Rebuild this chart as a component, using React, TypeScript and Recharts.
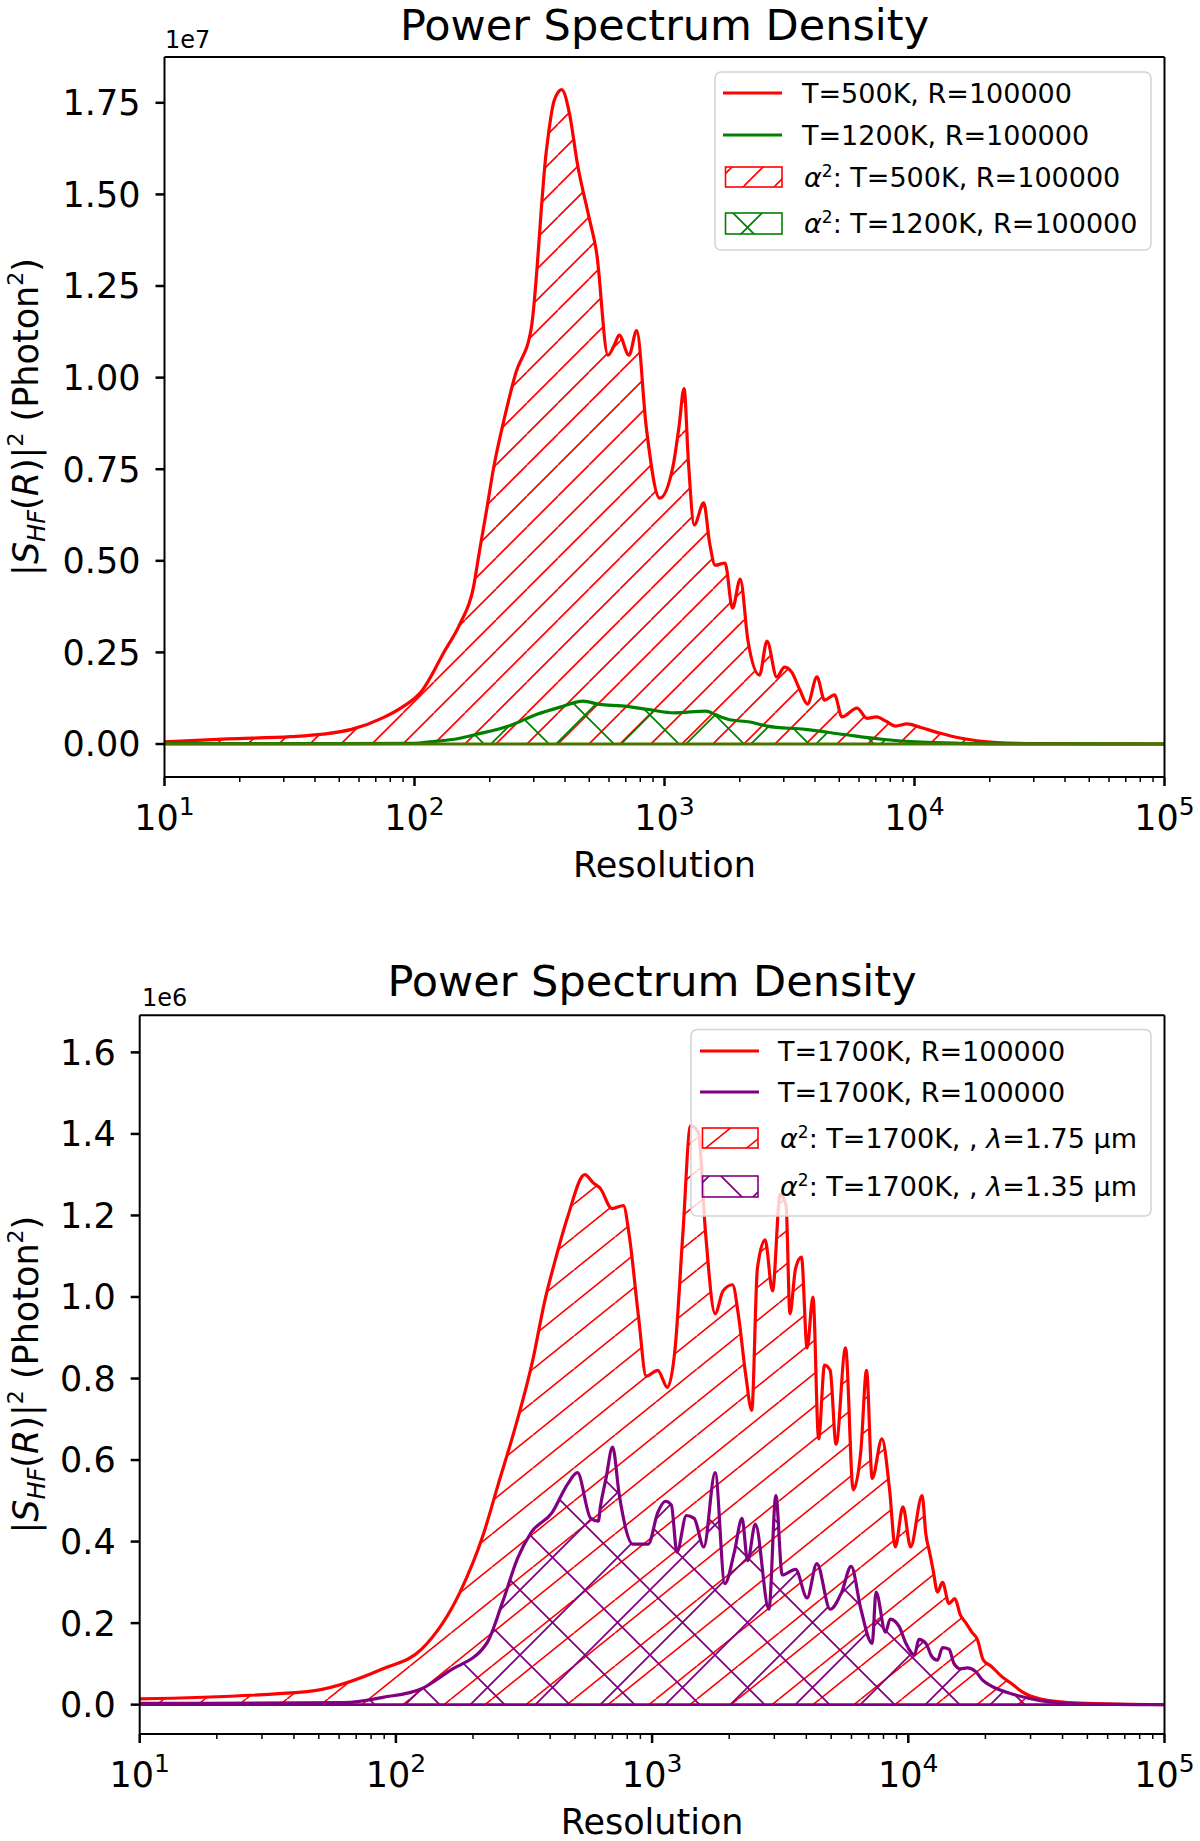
import React from 'react';
import { ComposedChart, Area, XAxis, YAxis, ReferenceLine } from 'recharts';

const FONT = '"DejaVu Sans", sans-serif';
const RED = '#ff0000';
const GREEN = '#008000';
const PURPLE = '#800080';

// ---- top panel: T=500K vs T=1200K (units of 1e7 photon^2)
const topRes500 = [
  10, 18, 32, 43, 56, 75, 89, 107, 132, 152, 172, 182, 195, 206, 229, 254, 293, 337, 362, 388,
  417, 448, 498, 535, 594, 631, 659, 721, 774, 845, 957, 1081, 1143, 1197, 1247, 1315, 1435, 1514,
  1596, 1746, 1871, 2009, 2158, 2399, 2570, 2812, 3020, 3236, 3467, 3733, 4074, 4365, 4786, 5129,
  5888, 6457, 7047, 7700, 8395, 9333, 10593, 12589, 15031, 17783, 21380, 31623, 100000,
];
const topPsd500 = [
  0.006, 0.014, 0.02, 0.027, 0.04, 0.072, 0.1, 0.145, 0.254, 0.328, 0.427, 0.527, 0.645, 0.744, 0.89, 1.012, 1.134, 1.62, 1.756, 1.786,
  1.72, 1.585, 1.44, 1.341, 1.061, 1.09, 1.116, 1.061, 1.128, 0.866, 0.671, 0.757, 0.866, 0.97, 0.768, 0.598, 0.658, 0.55,
  0.488, 0.494, 0.371, 0.45, 0.281, 0.188, 0.281, 0.183, 0.21, 0.195, 0.15, 0.109, 0.183, 0.12, 0.134, 0.074,
  0.098, 0.07, 0.074, 0.062, 0.049, 0.055, 0.045, 0.03, 0.017, 0.009, 0.004, 0.001, 0,
];
const topRes1200 = [
  10, 50, 100, 115, 150, 176, 240, 309, 380, 473, 550, 673, 850, 1096, 1466, 1600, 1807, 2200,
  2570, 3656, 5224, 7413, 10593, 15000, 25000, 100000,
];
const topPsd1200 = [
  0.001, 0.001, 0.002, 0.006, 0.015, 0.026, 0.05, 0.081, 0.1, 0.117, 0.108, 0.104, 0.095, 0.085, 0.09, 0.08, 0.067, 0.06,
  0.049, 0.04, 0.026, 0.013, 0.005, 0.002, 0.0005, 0,
];

// ---- bottom panel: T=1700K at two wavelengths (units of 1e6 photon^2)
const botRes175 = [
  10, 45, 89, 126, 178, 219, 251, 288, 343, 380, 422, 468, 546, 589, 628, 697, 773, 813, 887, 948,
  1052, 1148, 1230, 1318, 1413, 1514, 1618, 1762, 1892, 2061, 2168, 2323, 2449, 2576, 2761, 2951,
  3162, 3334, 3451, 3631, 3828, 4027, 4246, 4467, 4710, 4955, 5224, 5689, 6095, 6531, 6871, 7228,
  7889, 8453, 8892, 9528, 10209, 11324, 11700, 12106, 12500, 13002, 13600, 14421, 15200, 15959,
  16800, 17701, 18600, 19634, 21000, 23335, 25500, 27733, 32885, 46452, 100000,
];
const botPsd175 = [
  0.014, 0.032, 0.088, 0.136, 0.276, 0.416, 0.541, 0.666, 0.848, 0.987, 1.098, 1.196, 1.3, 1.28, 1.266, 1.217, 1.224, 1.154, 0.946, 0.806,
  0.82, 0.778, 0.875, 1.154, 1.42, 1.405, 1.154, 0.959, 1.015, 1.03, 0.959, 0.806, 0.722, 1.07, 1.14, 1.015,
  1.252, 1.224, 0.959, 1.07, 1.098, 0.875, 1.0, 0.652, 0.833, 0.82, 0.639, 0.875, 0.527, 0.624, 0.82, 0.555,
  0.652, 0.527, 0.387, 0.485, 0.387, 0.513, 0.42, 0.374, 0.33, 0.276, 0.3, 0.248, 0.26, 0.22,
  0.2, 0.178, 0.16, 0.109, 0.095, 0.067, 0.05, 0.032, 0.014, 0.004, 0,
];
const botRes135 = [
  10, 63, 89, 126, 160, 226, 260, 299, 337, 407, 468, 511, 575, 617, 628, 661, 701, 745, 841, 966,
  1052, 1127, 1189, 1250, 1361, 1459, 1592, 1762, 1923, 2094, 2244, 2360, 2529, 2858, 3041, 3221,
  3631, 4027, 4395, 4955, 5495, 5984, 6531, 7228, 7482, 8147, 8500, 9204, 9800, 10568, 11000, 11722,
  12300, 13002, 13600, 14421, 15100, 15959, 17000, 18323, 19500, 21038, 25823, 32885, 46452, 100000,
];
const botPsd135 = [
  0.003, 0.005, 0.018, 0.039, 0.081, 0.15, 0.249, 0.36, 0.422, 0.471, 0.541, 0.569, 0.458, 0.45, 0.485, 0.555, 0.632, 0.513, 0.394, 0.394,
  0.471, 0.499, 0.49, 0.374, 0.464, 0.457, 0.387, 0.569, 0.297, 0.374, 0.457, 0.353, 0.443, 0.234, 0.513, 0.318,
  0.332, 0.262, 0.346, 0.234, 0.276, 0.339, 0.234, 0.15, 0.276, 0.178, 0.21, 0.192, 0.15, 0.122, 0.16, 0.15,
  0.12, 0.109, 0.14, 0.136, 0.1, 0.088, 0.09, 0.081, 0.06, 0.046, 0.025, 0.01, 0.002, 0,
];

const xTicks = [
  10, 20, 30, 40, 50, 60, 70, 80, 90,
  100, 200, 300, 400, 500, 600, 700, 800, 900,
  1000, 2000, 3000, 4000, 5000, 6000, 7000, 8000, 9000,
  10000, 20000, 30000, 40000, 50000, 60000, 70000, 80000, 90000,
  100000,
];
const topYTicks = [0, 0.25, 0.5, 0.75, 1.0, 1.25, 1.5, 1.75];
const botYTicks = [0, 0.2, 0.4, 0.6, 0.8, 1.0, 1.2, 1.4, 1.6];
const topYDomain = [-0.09, 1.875];
const botYDomain = [-0.072, 1.691];

const toPoints = (rs: number[], vs: number[]) => rs.map((r, i) => ({ r, v: vs[i] }));

const LogTick = (props: any) => {
  const { x, y, payload } = props;
  const lg = Math.log10(payload.value);
  const exp = Math.round(lg);
  if (Math.abs(lg - exp) > 1e-6) {
    return <line x1={x} x2={x} y1={y} y2={y + 5} stroke="#000" strokeWidth={1.5} />;
  }
  return (
    <g>
      <line x1={x} x2={x} y1={y} y2={y + 9} stroke="#000" strokeWidth={2.5} />
      <text x={x} y={y + 53} textAnchor="middle" fontSize={35} fontFamily={FONT} fill="#000">
        10<tspan dy={-15} fontSize={25}>{exp}</tspan>
      </text>
    </g>
  );
};

const YLabel = (props: any) => {
  const vb = props.viewBox || {};
  const cy = vb.y + vb.height / 2;
  return (
    <text transform={`translate(38, ${cy}) rotate(-90)`} textAnchor="middle" fontSize={35} fontFamily={FONT} fill="#000">
      |<tspan fontStyle="italic">S</tspan>
      <tspan fontStyle="italic" fontSize={24} dy={7}>HF</tspan>
      <tspan dy={-7}>(</tspan>
      <tspan fontStyle="italic">R</tspan>
      <tspan>)|</tspan>
      <tspan fontSize={22} dy={-15}>2</tspan>
      <tspan dy={15}> (Photon</tspan>
      <tspan fontSize={22} dy={-15}>2</tspan>
      <tspan dy={15}>)</tspan>
    </text>
  );
};

const XLabel = (props: any) => {
  const vb = props.viewBox || {};
  return (
    <text x={vb.x + vb.width / 2} y={vb.y + 100} textAnchor="middle" fontSize={35} fontFamily={FONT} fill="#000">
      Resolution
    </text>
  );
};

const Patterns = () => (
  <defs>
    <pattern id="hatchRedTop" patternUnits="userSpaceOnUse" width={31} height={31}>
      <path d="M-31,31 L0,0 M0,31 L31,0 M31,31 L62,0" stroke={RED} strokeWidth={1.6} />
    </pattern>
    <pattern id="crossGreen" patternUnits="userSpaceOnUse" width={65} height={65}>
      <path d="M-65,65 L0,0 M0,65 L65,0 M65,65 L130,0 M-65,0 L0,65 M0,0 L65,65 M65,0 L130,65" stroke={GREEN} strokeWidth={1.7} />
    </pattern>
    <pattern id="hatchRedBot" patternUnits="userSpaceOnUse" width={41} height={33}>
      <path d="M-41,33 L0,0 M0,33 L41,0 M41,33 L82,0" stroke={RED} strokeWidth={1.6} />
    </pattern>
    <pattern id="crossPurple" patternUnits="userSpaceOnUse" width={65} height={65}>
      <path d="M-65,65 L0,0 M0,65 L65,0 M65,65 L130,0 M-65,0 L0,65 M0,0 L65,65 M65,0 L130,65" stroke={PURPLE} strokeWidth={1.7} />
    </pattern>
  </defs>
);

const axisLine = { stroke: '#000', strokeWidth: 2 };
const yTickStyle = { fontSize: 35, fill: '#000', fontFamily: FONT };
const CURVE_W = 3.2;

const TopChart = () => (
  <ComposedChart width={1200} height={900} margin={{ top: 57, right: 35.5, bottom: 63, left: 0 }}>
    <Patterns />
    <XAxis
      dataKey="r" type="number" scale="log" domain={[10, 100000]} ticks={xTicks} interval={0}
      allowDataOverflow height={60} tickSize={0} tickMargin={0} tickLine={false} tick={<LogTick />}
      axisLine={axisLine} label={<XLabel />}
    />
    <YAxis
      type="number" domain={topYDomain} ticks={topYTicks} allowDataOverflow width={164.5}
      tickSize={9} tickMargin={15} tickLine={{ stroke: '#000', strokeWidth: 2.5 }} axisLine={axisLine}
      tick={yTickStyle} tickFormatter={(v: number) => v.toFixed(2)} interval={0} label={<YLabel />}
    />
    <Area data={toPoints(topRes500, topPsd500)} dataKey="v" type="monotoneX" baseValue={0}
      stroke={RED} strokeWidth={CURVE_W} fill="url(#hatchRedTop)" fillOpacity={1} dot={false} activeDot={false} isAnimationActive={false} />
    <Area data={toPoints(topRes1200, topPsd1200)} dataKey="v" type="monotoneX" baseValue={0}
      stroke={GREEN} strokeWidth={CURVE_W} fill="url(#crossGreen)" fillOpacity={1} dot={false} activeDot={false} isAnimationActive={false} />
    <ReferenceLine y={0} stroke="#4d7300" strokeWidth={2.8} />
    <ReferenceLine y={topYDomain[1]} stroke="#000" strokeWidth={2} />
    <ReferenceLine x={100000} stroke="#000" strokeWidth={2} />
  </ComposedChart>
);

const BottomChart = () => (
  <ComposedChart width={1200} height={901} margin={{ top: 75.3, right: 35.5, bottom: 47, left: 0 }}>
    <Patterns />
    <XAxis
      dataKey="r" type="number" scale="log" domain={[10, 100000]} ticks={xTicks} interval={0}
      allowDataOverflow height={60} tickSize={0} tickMargin={0} tickLine={false} tick={<LogTick />}
      axisLine={axisLine} label={<XLabel />}
    />
    <YAxis
      type="number" domain={botYDomain} ticks={botYTicks} allowDataOverflow width={139.7}
      tickSize={9} tickMargin={15} tickLine={{ stroke: '#000', strokeWidth: 2.5 }} axisLine={axisLine}
      tick={yTickStyle} tickFormatter={(v: number) => v.toFixed(1)} interval={0} label={<YLabel />}
    />
    <Area data={toPoints(botRes175, botPsd175)} dataKey="v" type="monotoneX" baseValue={0}
      stroke={RED} strokeWidth={CURVE_W} fill="url(#hatchRedBot)" fillOpacity={1} dot={false} activeDot={false} isAnimationActive={false} />
    <Area data={toPoints(botRes135, botPsd135)} dataKey="v" type="monotoneX" baseValue={0}
      stroke={PURPLE} strokeWidth={CURVE_W} fill="url(#crossPurple)" fillOpacity={1} dot={false} activeDot={false} isAnimationActive={false} />
    <ReferenceLine y={0} stroke={PURPLE} strokeWidth={2.8} />
    <ReferenceLine y={botYDomain[1]} stroke="#000" strokeWidth={2} />
    <ReferenceLine x={100000} stroke="#000" strokeWidth={2} />
  </ComposedChart>
);

const Sup2 = () => <tspan dy={-10} fontSize={17}>2</tspan>;

const Overlay = () => (
  <svg width={1200} height={1841} style={{ position: 'absolute', left: 0, top: 0, pointerEvents: 'none' }}>
    <g fontFamily={FONT} fill="#000">
      <text x={664.5} y={40} textAnchor="middle" fontSize={43}>Power Spectrum Density</text>
      <text x={165} y={48} fontSize={24}>1e7</text>
      <text x={652} y={995.5} textAnchor="middle" fontSize={43}>Power Spectrum Density</text>
      <text x={142} y={1006} fontSize={24}>1e6</text>
    </g>

    {/* top legend */}
    <rect x={715} y={72} width={436} height={178} rx={6} fill="#fff" fillOpacity={0.8} stroke="#d4d4d4" strokeWidth={1.5} />
    <line x1={723} x2={782} y1={93} y2={93} stroke={RED} strokeWidth={CURVE_W} />
    <line x1={723} x2={782} y1={135} y2={135} stroke={GREEN} strokeWidth={CURVE_W} />
    <rect x={725.5} y={167} width={56.5} height={20} fill="url(#hatchRedTop)" stroke={RED} strokeWidth={1.6} />
    <rect x={725.5} y={213} width={56.5} height={21} fill="url(#crossGreen)" stroke={GREEN} strokeWidth={1.6} />
    <g fontFamily={FONT} fontSize={27} fill="#000">
      <text x={802} y={103}>T=500K, R=100000</text>
      <text x={802} y={145}>T=1200K, R=100000</text>
      <text x={804} y={187}>
        <tspan fontStyle="italic">α</tspan><Sup2 /><tspan dy={10}>: T=500K, R=100000</tspan>
      </text>
      <text x={804} y={233}>
        <tspan fontStyle="italic">α</tspan><Sup2 /><tspan dy={10}>: T=1200K, R=100000</tspan>
      </text>
    </g>

    {/* bottom legend */}
    <rect x={691} y={1029.5} width={460} height={186.5} rx={6} fill="#fff" fillOpacity={0.8} stroke="#d4d4d4" strokeWidth={1.5} />
    <line x1={700} x2={759} y1={1051} y2={1051} stroke={RED} strokeWidth={CURVE_W} />
    <line x1={700} x2={759} y1={1092} y2={1092} stroke={PURPLE} strokeWidth={CURVE_W} />
    <rect x={702.5} y={1128} width={55.5} height={20} fill="url(#hatchRedBot)" stroke={RED} strokeWidth={1.6} />
    <rect x={702.5} y={1176} width={55.5} height={21} fill="url(#crossPurple)" stroke={PURPLE} strokeWidth={1.6} />
    <g fontFamily={FONT} fontSize={27} fill="#000">
      <text x={778} y={1061}>T=1700K, R=100000</text>
      <text x={778} y={1102}>T=1700K, R=100000</text>
      <text x={780} y={1148}>
        <tspan fontStyle="italic">α</tspan><Sup2 /><tspan dy={10}>: T=1700K, , </tspan>
        <tspan fontStyle="italic">λ</tspan><tspan>=1.75 μm</tspan>
      </text>
      <text x={780} y={1196}>
        <tspan fontStyle="italic">α</tspan><Sup2 /><tspan dy={10}>: T=1700K, , </tspan>
        <tspan fontStyle="italic">λ</tspan><tspan>=1.35 μm</tspan>
      </text>
    </g>
  </svg>
);

export default function App() {
  return (
    <div style={{ position: 'absolute', left: 0, top: 0, width: 1200, height: 1841, background: '#fff' }}>
      <div style={{ position: 'absolute', left: 0, top: 0 }}>
        <TopChart />
      </div>
      <div style={{ position: 'absolute', left: 0, top: 940 }}>
        <BottomChart />
      </div>
      <Overlay />
    </div>
  );
}
